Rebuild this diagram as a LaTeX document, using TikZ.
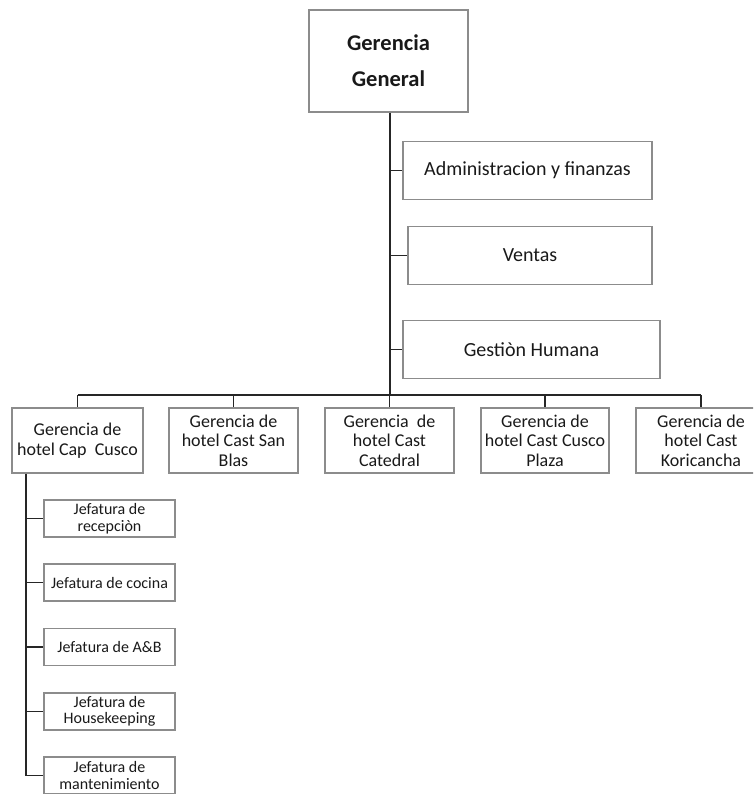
\documentclass[tikz,border=0pt]{standalone}
\usepackage{fontspec}
\setmainfont{Carlito}
\usetikzlibrary{calc, positioning}

\tikzset{
  orgbox/.style={draw=black!45, line width=1.1pt, text=black!90, align=center, inner sep=0pt},
  staffbox/.style={orgbox, minimum height=58pt, font=\fontsize{20}{24}\selectfont},
  hotelbox/.style={orgbox, minimum width=129pt, minimum height=65pt, font=\fontsize{18}{19.5}\selectfont},
  jefbox/.style={orgbox, minimum width=131pt, minimum height=37pt, font=\fontsize{16}{16.5}\selectfont},
  link/.style={black!85, line width=1.6pt},
}

\begin{document}
\begin{tikzpicture}[x=1pt, y=-1pt]
\useasboundingbox (0,0) rectangle (753,794);
\clip (0,0) rectangle (753,794);

\def\busy{395}
\def\subx{26}

% top
\node[orgbox, minimum width=159pt, minimum height=102pt, font=\bfseries\fontsize{22.5}{36}\selectfont] (gg) at (388.5,61) {Gerencia\\General};

% staff
\node[staffbox, minimum width=249pt] (adm) at (527.5,170.5) {Administracion y finanzas};
\node[staffbox, minimum width=244pt] (ven) at (530,255.5) {Ventas};
\node[staffbox, minimum width=257pt] (ges) at (531.5,349.5) {Gestiòn Humana};

% hotels
\node[hotelbox, minimum width=131pt] (h1) at (77.5,440.5) {Gerencia de\\hotel Cap\ \ Cusco};
\node[hotelbox] (h2) at (233.5,440.5) {Gerencia de\\hotel Cast San\\Blas};
\node[hotelbox] (h3) at (389.5,440.5) {Gerencia\ \ de\\hotel Cast\\Catedral};
\node[hotelbox, minimum width=128pt] (h4) at (545,440.5) {Gerencia de\\hotel Cast Cusco\\Plaza};
\node[hotelbox, minimum width=130pt] (h5) at (701,440.5) {Gerencia de\\hotel Cast\\Koricancha};

% jefaturas
\node[jefbox] (j1) at (109.5,518.5) {Jefatura de\\recepciòn};
\node[jefbox] (j2) at (109.5,582.5) {Jefatura de cocina};
\node[jefbox] (j3) at (109.5,647) {Jefatura de A\&B};
\node[jefbox] (j4) at (109.5,711.5) {Jefatura de\\Housekeeping};
\node[jefbox] (j5) at (109.5,775.5) {Jefatura de\\mantenimiento};

% lines
\coordinate (bus) at (390,\busy);
\draw[link, line width=2.6pt] (bus |- gg.south) -- (bus);
\draw[link, line width=2pt] (h1.north |- bus) -- (h5.north |- bus);
\foreach \n in {h1,h2,h3,h4,h5}
  \draw[link] (\n.north |- bus) -- (\n.north);
\foreach \n in {adm,ven,ges}
  \draw[link] (bus |- \n.west) -- (\n.west);

\coordinate (sub) at (\subx,775.5);
\draw[link, line width=2pt] (sub |- h1.south) -- (sub);
\foreach \n in {j1,j2,j3,j4,j5}
  \draw[link] (sub |- \n.west) -- (\n.west);
\end{tikzpicture}
\end{document}
